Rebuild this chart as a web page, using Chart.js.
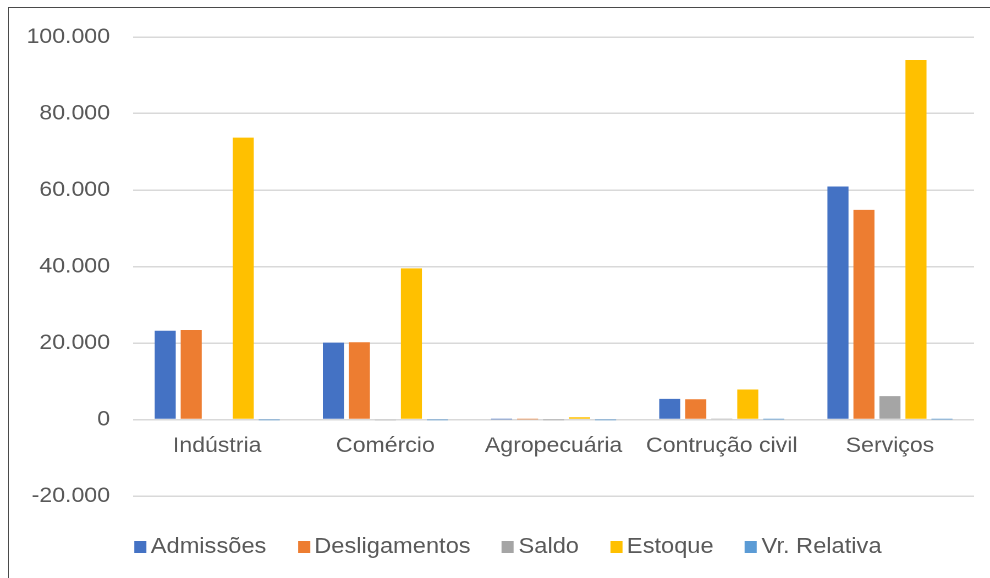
<!DOCTYPE html>
<html>
<head>
<meta charset="utf-8">
<script src="https://cdn.jsdelivr.net/npm/chart.js@4"></script>
<style>
  html, body { margin: 0; padding: 0; background: #fff; overflow: hidden; }
  body { width: 990px; height: 578px; position: relative; }
  #frame { position: absolute; left: 8px; top: 7px; width: 1000px; height: 600px;
           border-top: 1px solid #4a4a4a; border-left: 1px solid #4a4a4a; box-sizing: border-box; pointer-events: none; }
  #wrap { position: absolute; left: 0; top: 0; width: 900px; height: 578px;
          transform: scaleX(1.1); transform-origin: 0 0; }
  #c { position: absolute; left: 0; top: 0; }
  #legend { position: absolute; left: 122px; top: 534px; display: flex; align-items: center;
            font-family: "Liberation Sans", Arial, sans-serif; font-size: 21.5px; color: #595959; white-space: nowrap; }
  .item { display: flex; align-items: center; margin-right: 28.5px; }
  .box { width: 11px; height: 12px; margin-right: 4px; }
</style>
</head>
<body>
<div id="wrap">
  <canvas id="c" width="900" height="578"></canvas>
  <div id="legend"></div>
</div>
<div id="frame"></div>
<script>
const categories = ["Indústria", "Comércio", "Agropecuária", "Contrução civil", "Serviços"];
const seriesNames = ["Admissões", "Desligamentos", "Saldo", "Estoque", "Vr. Relativa"];
const admissoes = [23200, 20100, 30, 5400, 60900];
const desligamentos = [23400, 20200, 35, 5300, 54800];
const saldo = [-200, -100, -5, 100, 6100];
const estoque = [73700, 39500, 600, 7850, 94000];
const vrRelativa = [-0.3, -0.5, -1.6, 1.3, 6.9];
const yTicks = [-20000, 0, 20000, 40000, 60000, 80000, 100000];
const colors = ["#4472C4", "#ED7D31", "#A5A5A5", "#FFC000", "#5B9BD5"];

const seriesData = [admissoes, desligamentos, saldo, estoque, vrRelativa];
const fmt = v => String(v).replace(/\B(?=(\d{3})+(?!\d))/g, ".");

const datasets = seriesNames.map((name, i) => ({
  label: name,
  data: seriesData[i],
  backgroundColor: colors[i],
  borderWidth: 0,
  categoryPercentage: 0.773,
  barPercentage: 0.81
}));

new Chart(document.getElementById("c"), {
  type: "bar",
  data: { labels: categories, datasets },
  options: {
    responsive: false,
    animation: false,
    devicePixelRatio: 2,
    layout: { padding: { left: 8, right: 14.5, top: 37, bottom: 82 } },
    plugins: { legend: { display: false }, tooltip: { enabled: false }, title: { display: false } },
    scales: {
      x: {
        position: { y: 0 },
        grid: { display: false, drawTicks: false },
        border: { display: false },
        ticks: {
          color: "#595959",
          padding: 14,
          font: { family: "'Liberation Sans', Arial, sans-serif", size: 21 },
          maxRotation: 0, autoSkip: false
        }
      },
      y: {
        min: -20000, max: 100000,
        afterFit: s => { s.width = 113; },
        afterBuildTicks: s => { s.ticks = yTicks.map(v => ({ value: v })); },
        grid: { color: "#d9d9d9", lineWidth: 1.5, drawTicks: false },
        border: { display: false },
        ticks: {
          color: "#595959",
          padding: 21,
          font: { family: "'Liberation Sans', Arial, sans-serif", size: 21 },
          callback: v => fmt(v)
        }
      }
    }
  }
});

const legend = document.getElementById("legend");
seriesNames.forEach((name, i) => {
  const it = document.createElement("div");
  it.className = "item";
  const b = document.createElement("span");
  b.className = "box";
  b.style.background = colors[i];
  const t = document.createElement("span");
  t.textContent = name;
  it.appendChild(b); it.appendChild(t);
  legend.appendChild(it);
});
</script>
</body>
</html>
